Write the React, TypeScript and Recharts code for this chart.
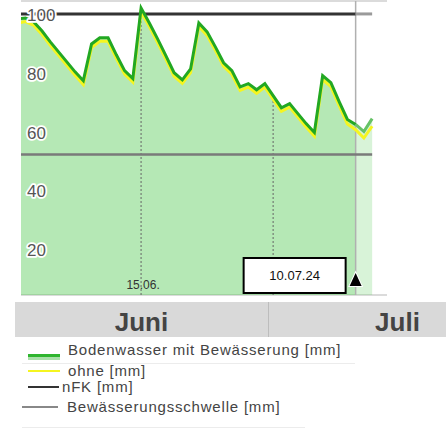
import { ComposedChart, Area, Line, XAxis, YAxis, CartesianGrid, ReferenceLine } from 'recharts'

// day 0 = 31.05., day 1 = 01.06. ... day 31 = 01.07.
const days = [0, 1, 2, 3, 4, 5, 6, 7, 8, 9, 10, 11, 12, 13, 14, 15, 16, 17, 18, 19, 20, 21,
  22, 23, 24, 25, 26, 27, 28, 29, 30, 31, 32, 33, 34, 35, 36, 37, 38, 39, 40, 41, 42, 43]

// Bodenwasser mit Bewässerung [mm]
const mitBew = [93.9, 94.2, 92.9, 89.8, 86.1, 82.7, 79.3, 75.9, 72.9, 85.4, 87.5, 87.5, 81.7, 76.3,
  73.6, 97.6, 92.5, 87.1, 81.4, 75.6, 73.2, 76.9, 92.5, 89.5, 84.4, 79.0, 76.3, 70.8, 71.9, 69.8,
  71.9, 67.8, 63.7, 65.1, 61.7, 58.3, 55.3, 74.6, 72.2, 65.8, 59.7, 58.0, 55.6, 60.0]

// ohne [mm]
const ohne = [92.5, 93.0, 91.7, 88.6, 84.9, 81.5, 78.1, 74.7, 71.6, 84.2, 86.3, 86.3, 80.5, 75.1,
  72.4, 96.3, 91.3, 85.9, 80.2, 74.4, 72.0, 75.6, 91.3, 88.3, 83.2, 77.8, 75.1, 69.6, 70.7, 68.6,
  70.7, 66.6, 62.5, 63.9, 60.5, 57.1, 54.0, 73.3, 70.9, 64.4, 58.2, 56.2, 53.4, 57.4]

const nfkValue = 95.6
const schwelleValue = 47.8
const todayDay = 41
const todayLabel = '10.07.24'

const yTicks = [0, 10, 20, 30, 40, 50, 60, 70, 80, 90, 100]
const yLabels = [20, 40, 60, 80, 100]
const xLabelDays = [15]
const xLabels = ['15.06.']
const monthLines = [15, 31]
const months = ['Juni', 'Juli']

const legendItems = [
  { name: 'Bodenwasser mit Bewässerung [mm]', key: 'mit' },
  { name: 'ohne [mm]', key: 'ohne' },
  { name: 'nFK [mm]', key: 'nfk' },
  { name: 'Bewässerungsschwelle [mm]', key: 'thr' },
]

const rows = days.map((day, i) => ({
  day,
  mit: i <= todayDay ? mitBew[i] : null,
  mitF: i >= todayDay ? mitBew[i] : null,
  ohne: ohne[i],
  nfk: i <= todayDay ? nfkValue : null,
  nfkF: i >= todayDay ? nfkValue : null,
  thr: schwelleValue,
}))

const FONT = '"Liberation Sans", Arial, sans-serif'
const X_DOMAIN: [number, number] = [0.45, 44.8]
const MARGIN = { top: 1, right: 59, bottom: 5, left: 21 }

// y labels sit just below their grid line, inside the plot
const yLabel = (value: number) => (props: any) => {
  const { x, y } = props.viewBox
  return (
    <text x={x + 6} y={y + 20} textAnchor="start" fontFamily={FONT} fontSize={17} fill="#555"
      stroke="#fff" strokeWidth={3.5} strokeLinejoin="round" paintOrder="stroke">
      {value}
    </text>
  )
}

const xLabel = (text: string) => (props: any) => {
  const { x, y, height } = props.viewBox
  return (
    <text x={x + 2} y={y + height - 6} textAnchor="middle" fontFamily={FONT} fontSize={12} fill="#333">
      {text}
    </text>
  )
}

const TodayMarker = (props: any) => {
  const { x, y, height } = props.viewBox
  const bottom = y + height
  return (
    <g>
      <rect x={x - 112} y={bottom - 37} width={102} height={35} fill="#fff" stroke="#000" strokeWidth={2} />
      <text x={x - 61} y={bottom - 15} textAnchor="middle" fontFamily={FONT} fontSize={13} fill="#111">
        {todayLabel}
      </text>
      <polygon points={`${x - 6},${bottom - 9} ${x + 6},${bottom - 9} ${x},${bottom - 22}`}
        fill="#000" stroke="#fff" strokeWidth={2} paintOrder="stroke" />
    </g>
  )
}

const swatch = (key: string) => {
  if (key === 'mit') {
    return <div style={{ position: 'absolute', left: 28, top: 354, width: 32, height: 6, background: '#a9dfa9', borderTop: '3px solid #2fb52f', boxSizing: 'border-box' }} />
  }
  if (key === 'ohne') return <div style={{ position: 'absolute', left: 28, top: 370, width: 32, height: 2, background: '#f5f520' }} />
  if (key === 'nfk') return <div style={{ position: 'absolute', left: 28, top: 386, width: 31, height: 2, background: '#333' }} />
  return <div style={{ position: 'absolute', left: 22, top: 406, width: 36, height: 2, background: '#888' }} />
}

const legendPos: Record<string, { left: number; top: number }> = {
  mit: { left: 68, top: 343 },
  ohne: { left: 68, top: 364 },
  nfk: { left: 62, top: 380 },
  thr: { left: 67, top: 400 },
}

export default function App() {
  return (
    <div style={{ position: 'absolute', left: 0, top: 0, width: 446, height: 438, background: '#fff', overflow: 'hidden', fontFamily: FONT }}>
      <ComposedChart width={446} height={300} data={rows} margin={MARGIN}>
        <CartesianGrid vertical={false} stroke="#cfcfcf" strokeWidth={1.5} />
        <XAxis type="number" dataKey="day" domain={X_DOMAIN} allowDataOverflow ticks={xLabelDays}
          height={0} tick={false} tickLine={false} axisLine={{ stroke: '#555', strokeWidth: 2.5 }} />
        <YAxis type="number" domain={[0, 100]} ticks={yTicks} width={0} tick={false}
          axisLine={false} tickLine={false} />
        <Area type="linear" dataKey="mit" baseValue={0} stroke="none" fill="#4fc94f" fillOpacity={0.42} isAnimationActive={false} />
        <Area type="linear" dataKey="mitF" baseValue={0} stroke="none" fill="#4fc94f" fillOpacity={0.22} isAnimationActive={false} />
        {monthLines.map((d) => (
          <ReferenceLine key={d} segment={[{ x: d, y: 0 }, { x: d, y: mitBew[d] }]} stroke="#666" strokeDasharray="2 2" strokeWidth={1} />
        ))}
        <ReferenceLine x={todayDay} stroke="#b0b0b0" strokeWidth={1.5} />
        <Line type="linear" dataKey="thr" stroke="#7a7a7a" strokeWidth={2.5} dot={false} isAnimationActive={false} />
        <Line type="linear" dataKey="nfk" stroke="#333" strokeWidth={3} dot={false} isAnimationActive={false} />
        <Line type="linear" dataKey="nfkF" stroke="#9a9a9a" strokeWidth={3} dot={false} isAnimationActive={false} />
        <Line type="linear" dataKey="ohne" stroke="#f5f520" strokeWidth={3} dot={false} isAnimationActive={false} />
        <Line type="linear" dataKey="mit" stroke="#22a822" strokeWidth={3} dot={false} isAnimationActive={false} />
        <Line type="linear" dataKey="mitF" stroke="#66c266" strokeWidth={3} dot={false} isAnimationActive={false} />
      </ComposedChart>

      {/* overlay with the same scales so labels sit above the lines */}
      <div style={{ position: 'absolute', left: 0, top: 0, pointerEvents: 'none' }}>
        <ComposedChart width={446} height={300} data={rows} margin={MARGIN}>
          <XAxis type="number" dataKey="day" domain={X_DOMAIN} allowDataOverflow height={0}
            tick={false} tickLine={false} axisLine={false} />
          <YAxis type="number" domain={[0, 100]} ticks={yTicks} width={0} tick={false}
            tickLine={false} axisLine={false} />
          <Line type="linear" dataKey="thr" stroke="none" strokeOpacity={0} dot={false} isAnimationActive={false} />
          {yLabels.map((v) => (
            <ReferenceLine key={`yl${v}`} y={v} strokeOpacity={0} label={yLabel(v)} />
          ))}
          {xLabelDays.map((d, i) => (
            <ReferenceLine key={`xl${d}`} x={d} strokeOpacity={0} label={xLabel(xLabels[i])} />
          ))}
          <ReferenceLine x={todayDay} strokeOpacity={0} label={(p: any) => <TodayMarker {...p} />} />
        </ComposedChart>
      </div>

      <div style={{ position: 'absolute', left: 15, top: 302, width: 431, height: 35, background: '#d9d9d9' }} />
      <div style={{ position: 'absolute', left: 268, top: 302, width: 1, height: 35, background: '#bdbdbd' }} />
      <div style={{ position: 'absolute', left: 15, top: 305, width: 253, height: 35, lineHeight: '35px', textAlign: 'center', fontSize: 26, fontWeight: 'bold', color: '#444' }}>{months[0]}</div>
      <div style={{ position: 'absolute', left: 269, top: 305, width: 257, height: 35, lineHeight: '35px', textAlign: 'center', fontSize: 26, fontWeight: 'bold', color: '#444' }}>{months[1]}</div>

      <div style={{ position: 'absolute', left: 22, top: 363, width: 333, height: 1, background: '#ececec' }} />
      <div style={{ position: 'absolute', left: 22, top: 427, width: 283, height: 1, background: '#ececec' }} />
      {legendItems.map((item) => (
        <div key={item.key}>
          {swatch(item.key)}
          <div style={{ position: 'absolute', left: legendPos[item.key].left, top: legendPos[item.key].top, fontSize: 15, letterSpacing: 0.8, color: '#444', lineHeight: '14px', whiteSpace: 'nowrap' }}>
            {item.name}
          </div>
        </div>
      ))}
    </div>
  )
}
